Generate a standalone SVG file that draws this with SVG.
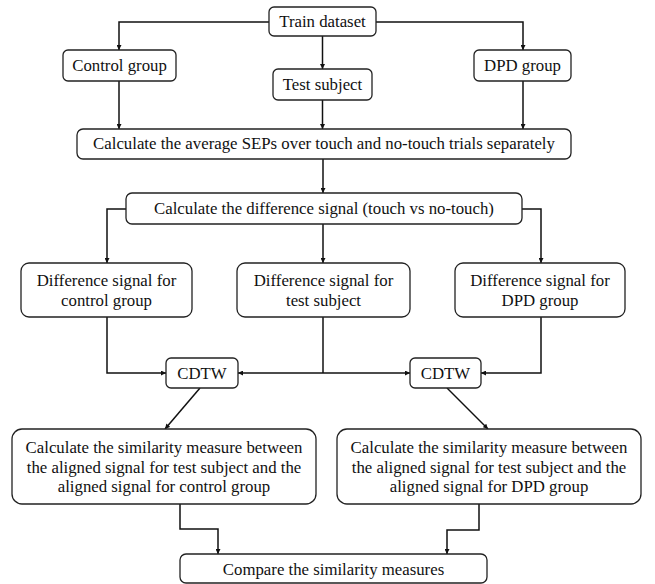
<svg xmlns="http://www.w3.org/2000/svg" width="655" height="584" viewBox="0 0 655 584">
<defs>
<marker id="ah" viewBox="0 0 10 10" refX="10" refY="5" markerWidth="6" markerHeight="5" orient="auto" markerUnits="userSpaceOnUse">
<path d="M0,0 L10,5 L0,10 z" fill="#111"/>
</marker>
<style>
.box{fill:#fff;stroke:#222;stroke-width:1.3}
.t{font-family:"Liberation Serif","Times New Roman",serif;font-size:16.8px;fill:#111;text-anchor:middle}
.c{fill:none;stroke:#111;stroke-width:1.5;marker-end:url(#ah)}
.l{fill:none;stroke:#111;stroke-width:1.5}
</style>
</defs>
<rect width="655" height="584" fill="#fff"/>
<g id="connectors">
<path class="c" d="M269,22 H119 V50"/>
<path class="c" d="M376,22 H523 V50"/>
<path class="c" d="M322.5,36 V69"/>
<path class="c" d="M119,81 V129"/>
<path class="c" d="M322.5,100 V129"/>
<path class="c" d="M523,81 V129"/>
<path class="c" d="M323,159 V193"/>
<path class="c" d="M126,209 H107 V263"/>
<path class="c" d="M522,209 H541 V263"/>
<path class="c" d="M323,224 V263"/>
<path class="c" d="M107,317 V373 H166"/>
<path class="l" d="M323,317 V373"/>
<path class="c" d="M323,373 H238"/>
<path class="c" d="M323,373 H410"/>
<path class="c" d="M541,317 V373 H481"/>
<path class="c" d="M200,388 L165,429"/>
<path class="c" d="M447,388 L488,429"/>
<path class="c" d="M180,504 V529 H218 V554"/>
<path class="c" d="M479,504 V530 H447 V554"/>
</g>
<g id="train">
<rect class="box" x="269" y="7" width="107" height="29" rx="5"/>
<text class="t" x="322.5" y="27">Train dataset</text>
</g>
<g id="control">
<rect class="box" x="63" y="50" width="113" height="31" rx="5"/>
<text class="t" x="119.5" y="71">Control group</text>
</g>
<g id="test">
<rect class="box" x="273" y="69" width="99" height="31" rx="5"/>
<text class="t" x="322.5" y="90">Test subject</text>
</g>
<g id="dpd">
<rect class="box" x="474" y="50" width="97" height="31" rx="5"/>
<text class="t" x="522.5" y="71">DPD group</text>
</g>
<g id="avg">
<rect class="box" x="77" y="129" width="494" height="30" rx="6"/>
<text class="t" x="324" y="149">Calculate the average SEPs over touch and no-touch trials separately</text>
</g>
<g id="diff">
<rect class="box" x="126" y="193" width="396" height="31" rx="6"/>
<text class="t" x="324" y="214">Calculate the difference signal (touch vs no-touch)</text>
</g>
<g id="diffControl">
<rect class="box" x="21" y="263" width="171" height="54" rx="8"/>
<text class="t" x="106.5" y="286">Difference signal for</text>
<text class="t" x="106.5" y="306">control group</text>
</g>
<g id="diffTest">
<rect class="box" x="237" y="263" width="173" height="54" rx="8"/>
<text class="t" x="323.5" y="286">Difference signal for</text>
<text class="t" x="323.5" y="306">test subject</text>
</g>
<g id="diffDPD">
<rect class="box" x="455" y="263" width="170" height="54" rx="8"/>
<text class="t" x="540" y="286">Difference signal for</text>
<text class="t" x="540" y="306">DPD group</text>
</g>
<g id="cdtw1">
<rect class="box" x="166" y="358" width="72" height="30" rx="5"/>
<text class="t" x="202" y="379">CDTW</text>
</g>
<g id="cdtw2">
<rect class="box" x="410" y="358" width="71" height="30" rx="5"/>
<text class="t" x="445.5" y="379">CDTW</text>
</g>
<g id="simControl">
<rect class="box" x="12" y="429" width="304" height="75" rx="10"/>
<text class="t" x="164" y="453">Calculate the similarity measure between</text>
<text class="t" x="164" y="473">the aligned signal for test subject and the</text>
<text class="t" x="164" y="492">aligned signal for control group</text>
</g>
<g id="simDPD">
<rect class="box" x="337" y="429" width="304" height="75" rx="10"/>
<text class="t" x="489" y="453">Calculate the similarity measure between</text>
<text class="t" x="489" y="473">the aligned signal for test subject and the</text>
<text class="t" x="489" y="492">aligned signal for DPD group</text>
</g>
<g id="compare">
<rect class="box" x="180" y="554" width="307" height="29" rx="6"/>
<text class="t" x="333.5" y="575">Compare the similarity measures</text>
</g>
</svg>
